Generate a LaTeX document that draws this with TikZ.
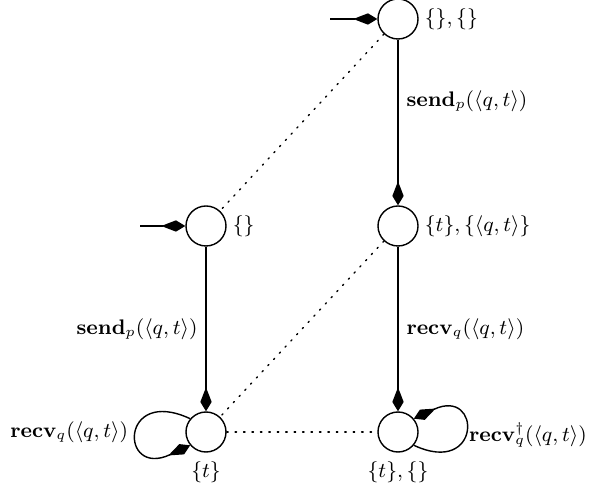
\documentclass[tikz,border=0pt]{standalone}
\usepackage{amsmath, amssymb}
\usepackage{tikz}
\usetikzlibrary{positioning, arrows.meta, calc}

\begin{document}
\begin{tikzpicture}[x=0.015cm, y=0.015cm, line width=0.6pt,
    font=\fontsize{9.2}{11}\selectfont,
    state/.style={draw, circle, minimum size=0.6cm, inner sep=0pt},
    trans/.style={-{Kite[length=0.36cm, width=0.17cm, inset=0.22cm]}},
    link/.style={dash pattern=on 0.6pt off 3pt, line cap=round}]
  \useasboundingbox (0,0) rectangle (593,487);
  % States
  \node[state] (top) at (398,468) {};
  \node[state] (mr)  at (398,261) {};
  \node[state] (br)  at (398,55)  {};
  \node[state] (ml)  at (206,261) {};
  \node[state] (bl)  at (206,55)  {};
  % State labels
  \node[right=-1pt of top] {$\{\}, \{\}$};
  \node[right=-1pt of mr]  {$\{t\}, \{\langle q,t\rangle\}$};
  \node[right=-1pt of ml]  {$\{\}$};
  \node[below=0pt of bl]  {$\{t\}$};
  \node[below=0pt of br]  {$\{t\}, \{\}$};
  % Initial arrows
  \coordinate (init1) at (330,468);
  \coordinate (init2) at (140,261);
  \draw[trans] (init1) -- (top);
  \draw[trans] (init2) -- (ml);
  % Transitions
  \draw[trans] (top) -- (mr)
        node[pos=0.37, right] {$\mathbf{send}_p(\langle q,t\rangle)$};
  \draw[trans] (mr) -- (br)
        node[midway, right] {$\mathbf{recv}_q(\langle q,t\rangle)$};
  \draw[trans] (ml) -- (bl)
        node[midway, left] {$\mathbf{send}_p(\langle q,t\rangle)$};
  % Self loops
  \draw[trans] (bl.140) .. controls +(155:78) and +(205:78) .. (bl.220);
  \node[anchor=east, inner sep=1pt] (lbl) at (131,55) {$\mathbf{recv}_q(\langle q,t\rangle)$};
  \draw[trans] (br.-40) .. controls +(-25:75) and +(25:75) .. (br.40);
  \node[anchor=west, inner sep=1pt] (lbr) at (466,52) {$\mathbf{recv}^{\dagger}_q(\langle q,t\rangle)$};
  % Correspondence
  \draw[link] (top) -- (ml);
  \draw[link] (mr) -- (bl);
  \draw[link] (bl) -- (br);
\end{tikzpicture}
\end{document}
